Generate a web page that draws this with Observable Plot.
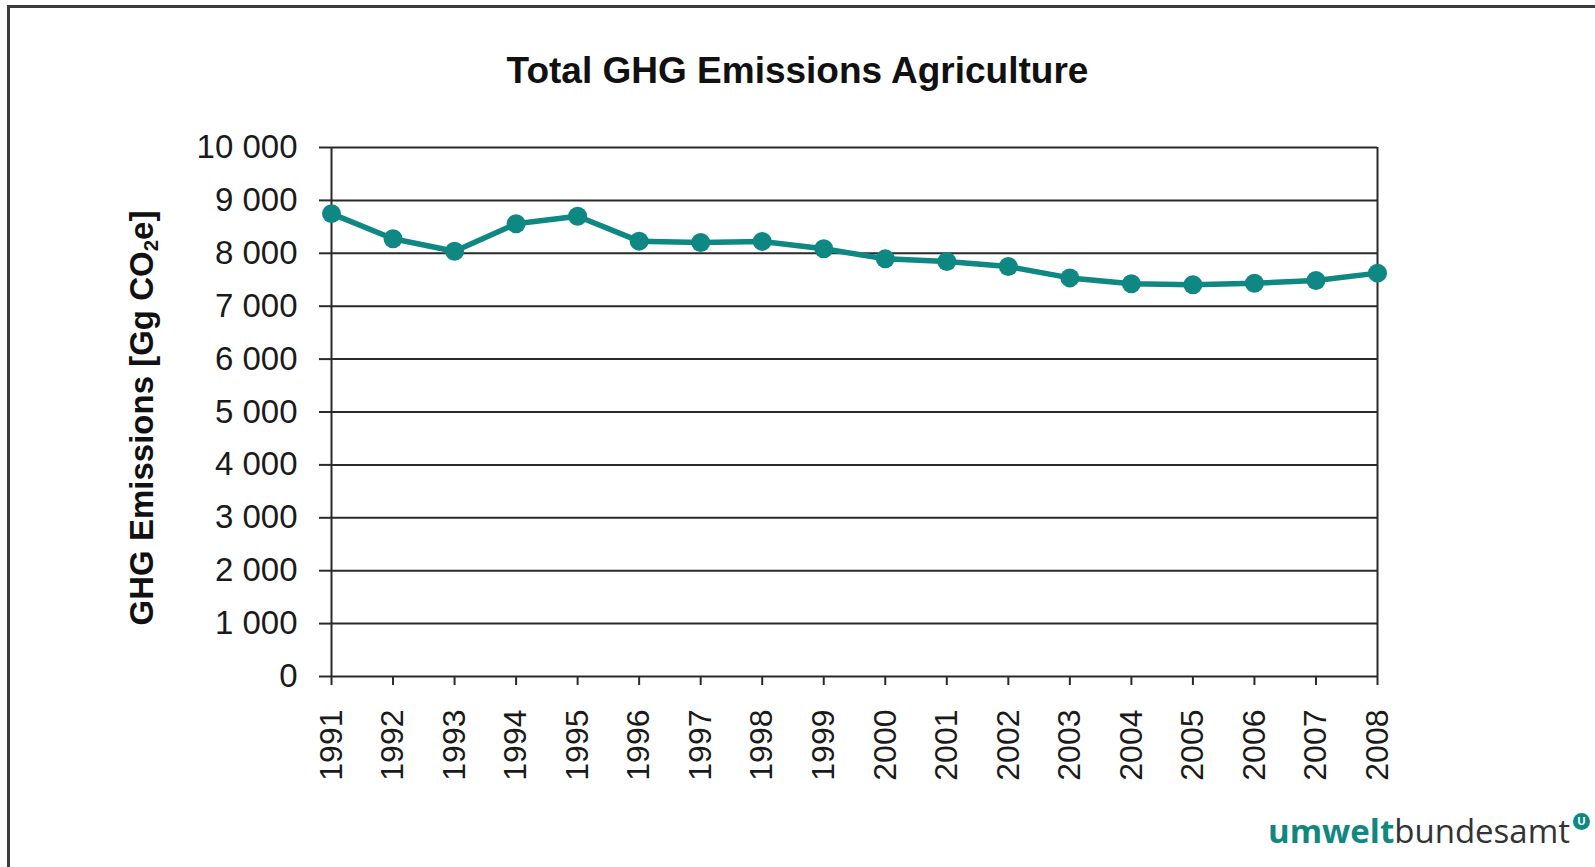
<!DOCTYPE html>
<html>
<head>
<meta charset="utf-8">
<script src="https://cdn.jsdelivr.net/npm/d3@7"></script>
<script src="https://cdn.jsdelivr.net/npm/@observablehq/plot@0.6"></script>
<style>
  html, body { margin: 0; padding: 0; background: #fff; }
  #wrap { position: relative; width: 1595px; height: 867px; overflow: hidden; background: #fff; font-family: "Liberation Sans", Arial, sans-serif; }
  #frame { position: absolute; left: 7px; top: 5px; right: -10px; bottom: -10px; border-top: 3px solid #3c3c3c; border-left: 3px solid #3c3c3c; }
  #chart { position: absolute; left: 0; top: 0; }
  #title { position: absolute; left: 0; width: 1595px; top: 52px; text-align: center; font-weight: bold; font-size: 37px; color: #111; line-height: 1; }
  #ylabel { position: absolute; left: 143px; top: 418px; transform: translate(-50%, -50%) rotate(-90deg); white-space: nowrap; font-weight: bold; font-size: 33px; color: #111; line-height: 1; }
  #ylabel sub { font-size: 0.62em; vertical-align: -0.25em; }
  #logo { position: absolute; left: 1268px; top: 813px; font-family: "Open Sans", sans-serif; font-size: 33px; line-height: 1; white-space: nowrap; }
  #logo .a { color: #10877f; font-weight: bold; }
  #logo .b { color: #333; font-weight: normal; }
  #logo .c { display: inline-block; width: 17px; height: 17px; border-radius: 50%; background: #10877f; color: #fff; font-size: 11px; font-weight: bold; text-align: center; line-height: 17px; vertical-align: 18px; margin-left: 3px; font-family: "Liberation Sans", Arial, sans-serif; }
</style>
</head>
<body>
<div id="wrap">
  <div id="frame"></div>
  <div id="chart"></div>
  <div id="title">Total GHG Emissions Agriculture</div>
  <div id="ylabel">GHG Emissions [Gg CO<sub>2</sub>e]</div>
  <div id="logo"><span class="a">umwelt</span><span class="b">bundesamt</span><span class="c">U</span></div>
</div>
<script>
const years = [1991, 1992, 1993, 1994, 1995, 1996, 1997, 1998, 1999, 2000, 2001, 2002, 2003, 2004, 2005, 2006, 2007, 2008];
const emissions = [8750, 8275, 8040, 8560, 8700, 8230, 8205, 8225, 8085, 7895, 7845, 7750, 7535, 7425, 7405, 7435, 7485, 7625];
const yTicks = [0, 1000, 2000, 3000, 4000, 5000, 6000, 7000, 8000, 9000, 10000];

const data = years.map((y, i) => ({year: y, value: emissions[i]}));
const fmt = d3.formatLocale({decimal: ".", thousands: " ", grouping: [3], currency: ["", ""]}).format(",");
const teal = "#0f8783";
const gridColor = "#2a2a2a";

const chart = Plot.plot({
  width: 1595,
  height: 867,
  marginLeft: 331,
  marginRight: 218,
  marginTop: 147,
  marginBottom: 191,
  style: {fontFamily: "Liberation Sans, Arial, sans-serif", background: "transparent", color: "#1a1a1a"},
  x: {domain: [1991, 2008], ticks: years, tickFormat: d => String(d)},
  y: {domain: [0, 10000], ticks: yTicks, tickFormat: fmt},
  marks: [
    Plot.ruleY(yTicks, {stroke: gridColor, strokeWidth: 2}),
    Plot.ruleX([1991, 2008], {stroke: gridColor, strokeWidth: 2}),
    Plot.axisY({ticks: yTicks, tickFormat: fmt, tickSize: 12, tickPadding: 22, fontSize: 33, label: null, stroke: gridColor, strokeWidth: 2}),
    Plot.axisX({ticks: years, tickFormat: d => String(d), tickSize: 9, tickPadding: 24, tickRotate: -90, fontSize: 32, label: null, stroke: gridColor, strokeWidth: 2}),
    Plot.line(data, {x: "year", y: "value", stroke: teal, strokeWidth: 5.5}),
    Plot.dot(data, {x: "year", y: "value", r: 9.5, fill: teal})
  ]
});
document.getElementById("chart").appendChild(chart);
</script>
</body>
</html>
